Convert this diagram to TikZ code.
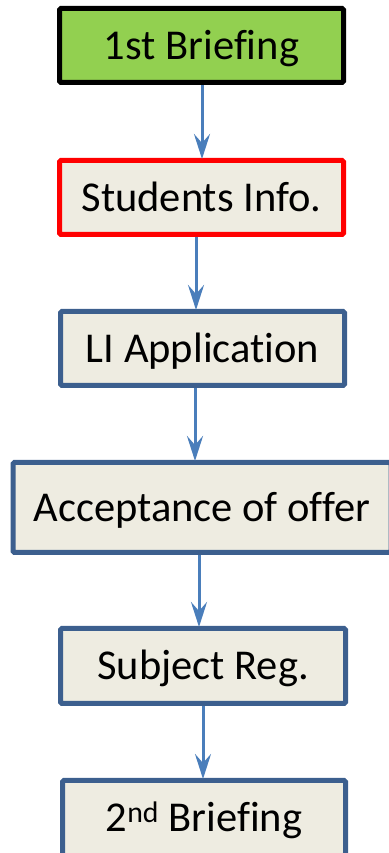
\documentclass[tikz,border=0pt]{standalone}
\usepackage{fontspec}
\setmainfont{Carlito}[Ligatures=NoCommon]
\usetikzlibrary{arrows.meta}
\definecolor{boxfill}{HTML}{EEECE1}
\definecolor{greenfill}{HTML}{92D050}
\definecolor{blueline}{HTML}{3C5F8E}
\definecolor{arrowblue}{HTML}{4A7EBB}
\tikzset{
  stepbox/.style={draw=blueline, fill=boxfill, line width=5pt, rounded corners=1.5pt,
    inner sep=0pt, text height=27.5pt, text depth=0pt, font=\fontsize{42.5}{50}\selectfont},
  flowarrow/.style={draw=arrowblue, line width=3pt,
    -{Stealth[length=25pt, width=16pt, inset=9pt]}, shorten >=-1pt}
}
\begin{document}
\begin{tikzpicture}[x=1pt,y=1pt]
\useasboundingbox (0,0) rectangle (388,853);
\node[stepbox, draw=black, fill=greenfill, minimum width=284, minimum height=74] (b1) at (201.5,807.5) {1st Briefing};
\node[stepbox, draw=red, minimum width=284, minimum height=74] (b2) at (201.5,655.5) {Students Info.};
\node[stepbox, minimum width=284, minimum height=74] (b3) at (202.5,504.5) {LI Application};
\node[stepbox, minimum width=378, minimum height=90] (b4) at (202,345.5) {Acceptance of offer};
\node[stepbox, minimum width=285, minimum height=75] (b5) at (203,187) {Subject Reg.};
\node[stepbox, minimum width=283, minimum height=75] (b6) at (204,35) {2\textsuperscript{nd} Briefing};
\draw[flowarrow] ([xshift=0.5pt]b1.south) -- ([xshift=0.5pt]b1.south |- b2.north);
\draw[flowarrow] ([xshift=-5.5pt]b2.south) -- ([xshift=-5.5pt]b2.south |- b3.north);
\draw[flowarrow] ([xshift=-7.5pt]b3.south) -- ([xshift=-7.5pt]b3.south |- b4.north);
\draw[flowarrow] ([xshift=-3pt]b4.south) -- ([xshift=-3pt]b4.south |- b5.north);
\draw[flowarrow] ([xshift=0pt]b5.south) -- ([xshift=0pt]b5.south |- b6.north);
\end{tikzpicture}
\end{document}
